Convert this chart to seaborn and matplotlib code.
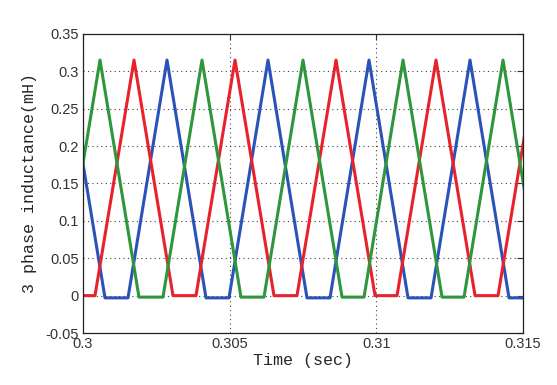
import numpy as np
import pandas as pd
import matplotlib
matplotlib.use('Agg')
import matplotlib.pyplot as plt
import seaborn as sns

# vertices of the three phase inductance waveforms (time in sec, value in mH)
blue_t = [0.299420, 0.300750, 0.301534, 0.302864, 0.304193, 0.304977, 0.306307,
          0.307636, 0.308420, 0.309750, 0.311080, 0.311864, 0.313193, 0.314523, 0.315307]
blue_v = [0.315, -0.003, -0.003, 0.315, -0.003, -0.003, 0.315,
          -0.003, -0.003, 0.315, -0.003, -0.003, 0.315, -0.003, -0.003]

red_t = [0.299625, 0.300409, 0.301739, 0.303068, 0.303852, 0.305182, 0.306511,
         0.307295, 0.308625, 0.309955, 0.310705, 0.312034, 0.313364, 0.314148, 0.315477]
red_v = [0.0, 0.0, 0.315, 0.0, 0.0, 0.315, 0.0,
         0.0, 0.315, 0.0, 0.0, 0.315, 0.0, 0.0, 0.315]

green_t = [0.298466, 0.299250, 0.300580, 0.301909, 0.302727, 0.304057, 0.305386, 0.306170,
           0.307500, 0.308830, 0.309580, 0.310909, 0.312239, 0.312989, 0.314318, 0.315648]
green_v = [-0.002, -0.002, 0.315, -0.002, -0.002, 0.315, -0.002, -0.002,
           0.315, -0.002, -0.002, 0.315, -0.002, -0.002, 0.315, -0.002]

x_ticks = [0.3, 0.305, 0.31, 0.315]
x_labels = ['0.3', '0.305', '0.31', '0.315']
y_ticks = [-0.05, 0, 0.05, 0.1, 0.15, 0.2, 0.25, 0.3, 0.35]
y_labels = ['-0.05', '0', '0.05', '0.1', '0.15', '0.2', '0.25', '0.3', '0.35']

phase_colors = {'A': '#2a52b8', 'B': '#e8222c', 'C': '#2e963c'}

df = pd.concat([
    pd.DataFrame({'time': blue_t, 'L': blue_v, 'phase': 'A'}),
    pd.DataFrame({'time': red_t, 'L': red_v, 'phase': 'B'}),
    pd.DataFrame({'time': green_t, 'L': green_v, 'phase': 'C'}),
], ignore_index=True)

sns.set_style('white')
plt.rcParams['font.family'] = ['Liberation Sans', 'DejaVu Sans']

fig = plt.figure(figsize=(5.57, 3.85), dpi=100)
ax = fig.add_axes([0.149, 0.135, 0.79, 0.777])

sns.lineplot(data=df, x='time', y='L', hue='phase', palette=phase_colors,
             sort=False, estimator=None, linewidth=2.2, legend=False, ax=ax)

ax.set_xlim(0.3, 0.315)
ax.set_ylim(-0.05, 0.35)
ax.set_xticks(x_ticks)
ax.set_xticklabels(x_labels)
ax.set_yticks(y_ticks)
ax.set_yticklabels(y_labels)
ax.grid(True, linestyle=(0, (1, 3)), color='#444444', linewidth=0.8)
ax.set_axisbelow(True)
ax.tick_params(direction='in', length=4, width=0.8, top=True, right=True,
               labelsize=10.5, colors='#333333', pad=3)
for s in ax.spines.values():
    s.set_color('#222222')
    s.set_linewidth(0.9)

ax.set_xlabel('Time (sec)', family='Liberation Mono', fontsize=12, labelpad=1)
ax.set_ylabel('3 phase inductance(mH)', family='Liberation Mono', fontsize=12, labelpad=6)

fig.savefig('out.png', dpi=100)
